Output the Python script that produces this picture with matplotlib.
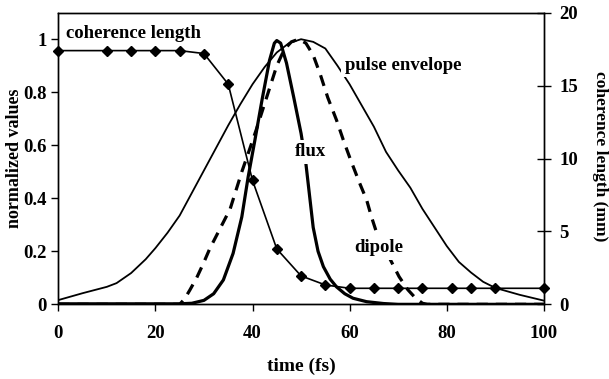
import matplotlib
matplotlib.use("Agg")
import matplotlib.pyplot as plt

# pulse envelope (normalized)
env_t = [0, 5, 10, 12, 15, 18, 20, 22.5, 25, 27.5, 30, 32.5, 35, 37.5, 40, 42.5,
         45, 47.5, 50, 52.5, 55, 57.5, 60, 62.5, 65, 67.5, 70, 72.5, 75, 77.5,
         80, 82.5, 85, 87.5, 90, 95, 100]
env_v = [0.016, 0.042, 0.066, 0.080, 0.118, 0.170, 0.212, 0.27, 0.335, 0.42, 0.505,
         0.59, 0.675, 0.755, 0.83, 0.895, 0.95, 0.985, 1.0, 0.99, 0.965, 0.90, 0.83,
         0.75, 0.67, 0.575, 0.505, 0.44, 0.36, 0.29, 0.22, 0.16, 0.12, 0.085, 0.062,
         0.036, 0.014]

# flux (normalized)
flux_t = [0, 20, 25, 27.5, 30, 32, 34, 36, 37.8, 39.1, 40.5, 42, 43.5, 44.5, 45,
          45.8, 47, 48.5, 50, 51, 52, 52.5, 53.5, 54.6, 56, 57.3, 59, 60.7, 63.5,
          67, 70, 100]
flux_v = [0.002, 0.002, 0.002, 0.004, 0.015, 0.04, 0.092, 0.192, 0.33, 0.48, 0.62,
          0.775, 0.92, 0.985, 0.995, 0.985, 0.91, 0.78, 0.645, 0.53, 0.37, 0.29,
          0.2, 0.142, 0.095, 0.066, 0.04, 0.023, 0.01, 0.003, 0.0, 0.0]

# dipole (normalized)
dip_t = [0, 25, 26, 27.1, 28.5, 29.9, 31.2, 32.6, 34, 35.4, 36.6, 37.8, 39.5, 40.8,
         42.2, 43.6, 45, 46.5, 48, 49.5, 51, 52.5, 54, 55.5, 57.3, 58.7, 60.2, 62,
         63.5, 64.5, 65.6, 67.5, 69.3, 70.2, 72, 73.5, 75, 76, 100]
dip_v = [0.0, 0.0, 0.02, 0.054, 0.1, 0.155, 0.21, 0.26, 0.31, 0.36, 0.43, 0.5, 0.59,
         0.66, 0.74, 0.82, 0.9, 0.96, 0.99, 1.0, 0.985, 0.94, 0.865, 0.78, 0.695,
         0.62, 0.545, 0.46, 0.394, 0.33, 0.268, 0.2, 0.136, 0.104, 0.055, 0.025,
         0.004, 0.0, 0.0]

# coherence length (mm), right axis
coh_t = [0, 10, 15, 20, 25, 30, 35, 40, 45, 50, 55, 60, 65, 70, 75, 81, 85, 90, 100]
coh_mm = [17.4, 17.4, 17.4, 17.4, 17.4, 17.2, 15.1, 8.5, 3.8, 1.95, 1.33, 1.1, 1.1,
          1.1, 1.1, 1.1, 1.1, 1.1, 1.1]

x_ticks = [0, 20, 40, 60, 80, 100]
left_ticks = [0, 0.2, 0.4, 0.6, 0.8, 1.0]
left_labels = ["0", "0.2", "0.4", "0.6", "0.8", "1"]
right_ticks = [0, 5, 10, 15, 20]

plt.rcParams["font.family"] = ["Liberation Serif", "DejaVu Serif"]
plt.rcParams["font.weight"] = "bold"

fig = plt.figure(figsize=(6.09, 3.79), dpi=100)
ax = fig.add_axes([0.0957, 0.197, 0.7973, 0.7695])
ax2 = ax.twinx()

ax.plot(env_t, env_v, color="black", lw=1.3)
ax.plot(flux_t, flux_v, color="black", lw=2.3)
ax.plot(dip_t, dip_v, color="black", lw=2.3, dashes=(3.5, 2.5))

ax2.plot(coh_t, coh_mm, color="black", lw=1.2, marker="D", markersize=5.5,
         clip_on=False, zorder=3)

ax.set_xlim(0, 100)
ax.set_ylim(0, 1.1)
ax2.set_ylim(0, 20)
ax.set_xticks(x_ticks)
ax.set_yticks(left_ticks)
ax.set_yticklabels(left_labels)
ax2.set_yticks(right_ticks)

ax.tick_params(axis="both", direction="out", length=5, width=1, labelsize=13.5)
ax.tick_params(axis="x", pad=10)
ax2.tick_params(axis="y", direction="inout", length=10, width=1, labelsize=13.5, pad=6)

for a in (ax, ax2):
    for s in a.spines.values():
        s.set_linewidth(1.0)

# axis titles placed in figure pixels, as in the reference
W, H = 609, 379
fig.text(301 / W, 1 - 366 / H, "time (fs)", fontsize=14, fontweight="bold",
         ha="center", va="center")
fig.text(15 / W, 1 - 158 / H, "normalized values", fontsize=13, fontweight="bold",
         rotation=90, ha="center", va="center")
fig.text(600 / W, 1 - 156 / H, "coherence length (mm)", fontsize=12.5,
         fontweight="bold", rotation=270, ha="center", va="center")

box = dict(facecolor="white", edgecolor="none", pad=2.5)
label_kw = dict(fontsize=13.5, fontweight="bold", zorder=5, bbox=box)
ax2.text(1.6, 18.6, "coherence length", ha="left", va="center", **label_kw)
ax2.text(59.0, 16.4, "pulse envelope", ha="left", va="center", **label_kw)
ax2.text(48.7, 10.45, "flux", ha="left", va="center", **label_kw)
ax2.text(60.9, 3.9, "dipole", ha="left", va="center", **label_kw)

fig.savefig("out.png", dpi=100)
